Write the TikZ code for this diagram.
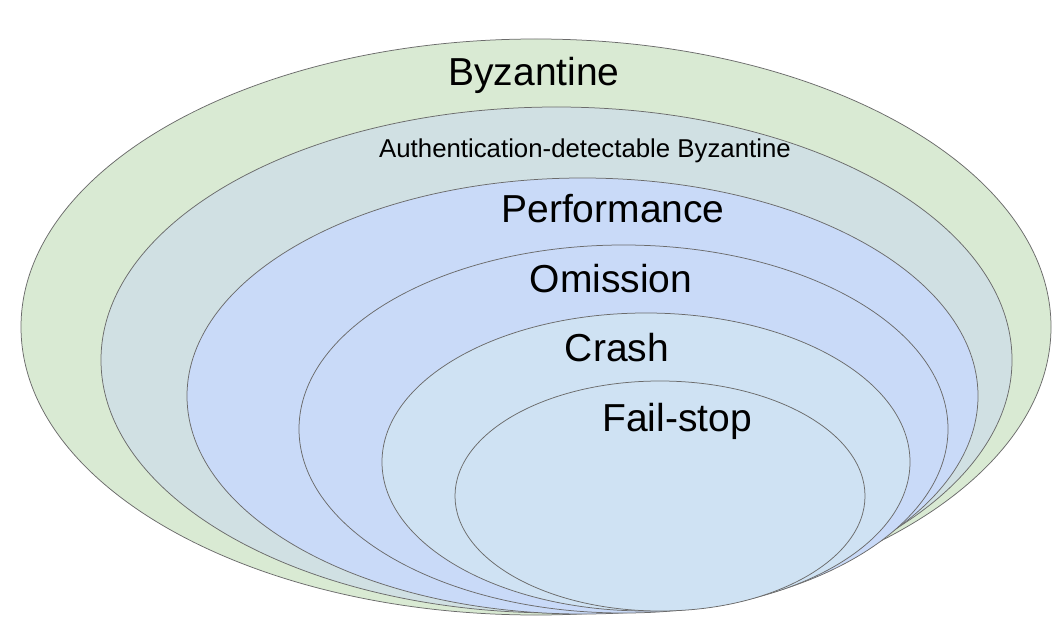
\documentclass[tikz,border=0pt]{standalone}
\usepackage{fontspec}
\setmainfont{Liberation Sans}
\definecolor{byzfill}{HTML}{D9EAD3}
\definecolor{authfill}{HTML}{D0E0E3}
\definecolor{perffill}{HTML}{C9DAF8}
\definecolor{crashfill}{HTML}{CFE2F3}
\definecolor{edge}{HTML}{6B6B6B}
\begin{document}
\begin{tikzpicture}[x=1pt,y=-1pt,
  ring/.style={draw=edge, line width=0.75pt},
  lbl/.style={anchor=base, inner sep=0pt, text=black, font=\fontsize{39}{44}\selectfont},
  small/.style={anchor=base, inner sep=0pt, text=black, font=\fontsize{25.8}{30}\selectfont}]
\useasboundingbox (0,0) rectangle (1059,636);
\fill[white] (0,0) rectangle (1059,636);
\filldraw[ring, fill=byzfill] (536,327) ellipse [x radius=515, y radius=288];
\filldraw[ring, fill=authfill] (556.5,360) ellipse [x radius=455.5, y radius=253];
\filldraw[ring, fill=perffill] (582.5,396) ellipse [x radius=395.5, y radius=218];
\filldraw[ring, fill=perffill] (623.5,429) ellipse [x radius=324.5, y radius=184];
\filldraw[ring, fill=crashfill] (646,462) ellipse [x radius=264, y radius=149];
\filldraw[ring, fill=crashfill] (660,496) ellipse [x radius=205, y radius=115];
\node[lbl] (byz) at (534,86) {Byzantine};
\node[small] (auth) at (585,158) {Authentication-detectable Byzantine};
\node[lbl] (perf) at (613,223) {Performance};
\node[lbl] (omi) at (611,292) {Omission};
\node[lbl] (crash) at (617,361) {Crash};
\node[lbl] (fs) at (677,431) {Fail-stop};
\end{tikzpicture}
\end{document}
